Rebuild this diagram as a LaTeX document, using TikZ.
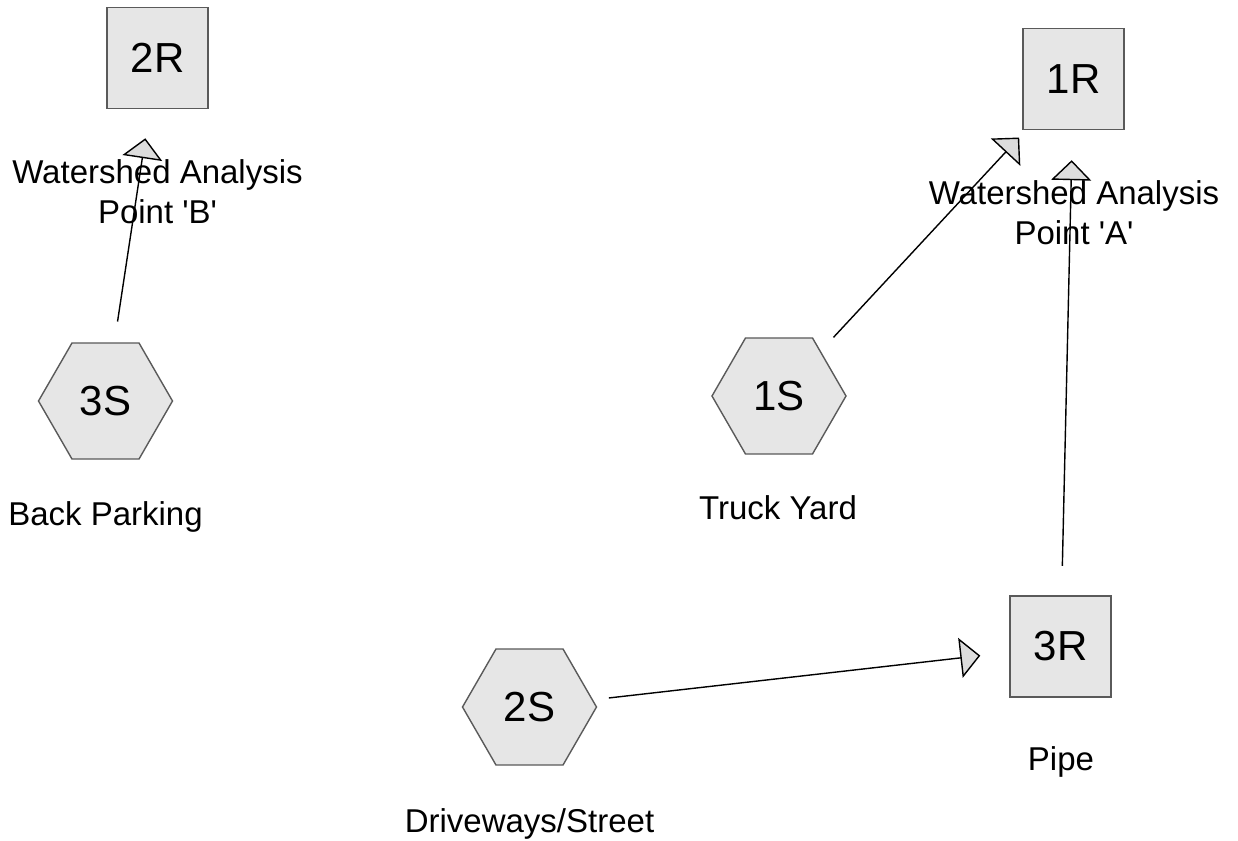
\documentclass[tikz,border=0pt]{standalone}
\usepackage{fontspec}
\setmainfont{Liberation Sans}
\usepackage{tikz}
\usetikzlibrary{shapes.geometric}
\usetikzlibrary{arrows.meta}
\definecolor{nodefill}{RGB}{230,230,230}
\definecolor{nodeedge}{RGB}{90,90,90}
\definecolor{tipfill}{RGB}{221,221,221}
\tikzset{
  reach/.style={rectangle,draw=nodeedge,fill=nodefill,line width=0.7pt,minimum size=50.5pt,inner sep=0pt,font=\fontsize{21}{25}\selectfont},
  subcat/.style={regular polygon,regular polygon sides=6,draw=nodeedge,fill=nodefill,line width=0.7pt,minimum size=67pt,inner sep=0pt,font=\fontsize{21}{25}\selectfont},
  tag/.style={inner sep=0pt,font=\fontsize{16.5}{20}\selectfont},
  flow/.style={line width=0.7pt,-{Triangle[length=10pt,width=20pt,fill=tipfill]}}
}

\begin{document}
\begin{tikzpicture}[x=0.5pt,y=-0.5pt]
\useasboundingbox (0,0) rectangle (1238,841);
%reaches
\node [reach] (r2) at (157.5,58) {2R};
\node [reach] (r1) at (1073.5,79) {1R};
\node [reach] (r3) at (1060.5,646.5) {3R};
%subcatchments
\node [subcat] (s3) at (105.5,401) {3S};
\node [subcat] (s1) at (779,396) {1S};
\node [subcat] (s2) at (529.5,707) {2S};
%labels
\node [tag,align=center,anchor=north] (l2) at (157.5,159) {Watershed Analysis\\Point \textquotesingle B\textquotesingle};
\node [tag,align=center,anchor=north] (l1) at (1074,180) {Watershed Analysis\\Point \textquotesingle A\textquotesingle};
\node [tag,anchor=base] (l3) at (1061,770) {Pipe};
\node [tag,anchor=base] (k3) at (105.5,525) {Back Parking};
\node [tag,anchor=base] (k1) at (778,519) {Truck Yard};
\node [tag,anchor=base] (k2) at (529.5,832) {Driveways/Street};
%flows
\draw [flow,shorten <=10.5pt,shorten >=14.7pt] (s3) -- (r2);
\draw [flow,shorten <=9.3pt,shorten >=5pt] (s1) -- (r1);
\draw [flow,shorten <=14.75pt,shorten >=15pt] (r3) -- (r1);
\draw [flow,shorten <=7.9pt,shorten >=14.6pt] (s2) -- (r3);
\end{tikzpicture}
\end{document}
